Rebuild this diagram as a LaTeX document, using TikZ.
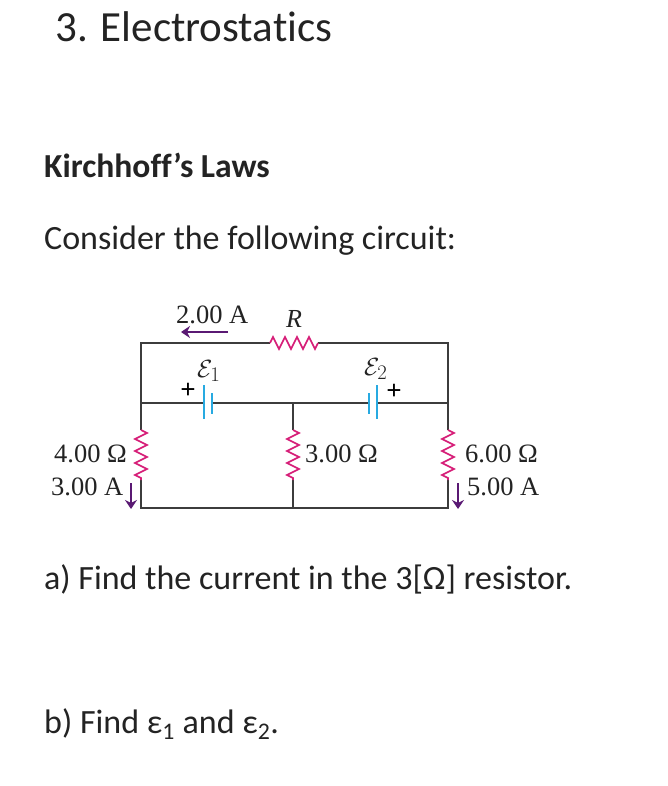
\documentclass[tikz,border=0pt]{standalone}
\usepackage{amsmath}
\usepackage{fontspec}
\setmainfont[Ligatures=NoCommon]{Carlito}
\newfontfamily\figfont{Liberation Serif}
\usetikzlibrary{decorations.pathmorphing,arrows.meta}
\definecolor{wirecol}{RGB}{60,60,60}
\definecolor{rescol}{RGB}{214,30,120}
\definecolor{batcol}{RGB}{40,170,225}
\definecolor{arrcol}{RGB}{90,25,115}
\definecolor{txtcol}{RGB}{35,35,35}
\tikzset{
  wire/.style={draw=wirecol,line width=1.6pt},
  res/.style={draw=rescol,line width=1.6pt,decorate,decoration={zigzag,segment length=12pt,amplitude=6pt}},
  plate/.style={draw=batcol,line width=1.6pt},
  cur/.style={draw=arrcol,line width=1.9pt,-{Stealth[length=9pt,width=12pt]}},
  head/.style={anchor=base west,inner sep=0pt,font=\fontsize{43}{43}\selectfont,text=txtcol},
  sub/.style={anchor=base west,inner sep=0pt,font=\fontsize{33.6}{33.6}\selectfont\bfseries,text=txtcol},
  body/.style={anchor=base west,inner sep=0pt,font=\fontsize{34}{34}\selectfont,text=txtcol},
  lab/.style={anchor=base west,inner sep=0pt,font=\figfont\fontsize{26.5}{26.5}\selectfont,text=txtcol},
  sign/.style={inner sep=0pt,font=\figfont\bfseries\fontsize{27}{27}\selectfont,text=black},
  emf/.style={lab,font=\fontsize{29}{29}\selectfont},
}
\begin{document}
\begin{tikzpicture}[x=1pt,y=-1pt]
\useasboundingbox (0,0) rectangle (668,786);
% text
\node [head] (title) at (55,42) {3. Electrostatics};
\node [sub] (laws) at (44,178) {Kirchhoff’s Laws};
\node [body] (intro) at (44,249) {Consider the following circuit:};
\node [body] (parta) at (44,589) {a) Find the current in the 3[Ω] resistor.};
\node [body] (partb) at (44,733) {b) Find ε\textsubscript{1} and ε\textsubscript{2}.};
% junctions
\coordinate (tl) at (141,343);
\coordinate (tr) at (448,343);
\coordinate (ml) at (141,403);
\coordinate (mm) at (293,403);
\coordinate (mr) at (448,403);
\coordinate (bl) at (141,508);
\coordinate (bm) at (293,508);
\coordinate (br) at (448,508);
% resistor ends
\coordinate (ra) at (270,343);
\coordinate (rb) at (318,343);
\coordinate (r4a) at (141,430);
\coordinate (r4b) at (141,480);
\coordinate (r3a) at (293,430);
\coordinate (r3b) at (293,480);
\coordinate (r6a) at (448,430);
\coordinate (r6b) at (448,480);
% battery plates
\coordinate (b1a) at (204,403);
\coordinate (b1b) at (212,403);
\coordinate (b2a) at (369,403);
\coordinate (b2b) at (377,403);
% wires
\draw [wire] (ra) -- (tl) -- (ml) -- (r4a);
\draw [wire] (r4b) -- (bl) -- (bm) -- (br) -- (r6b);
\draw [wire] (r6a) -- (mr) -- (tr) -- (rb);
\draw [wire] (ml) -- (b1a);
\draw [wire] (b1b) -- (mm) -- (b2a);
\draw [wire] (b2b) -- (mr);
\draw [wire] (mm) -- (r3a);
\draw [wire] (r3b) -- (bm);
% resistors
\draw [res] (ra) -- (rb);
\draw [res] (r4a) -- (r4b);
\draw [res] (r3a) -- (r3b);
\draw [res] (r6a) -- (r6b);
% batteries
\draw [plate] ([yshift=18pt]b1a) -- ([yshift=-16pt]b1a);
\draw [plate] ([yshift=10pt]b1b) -- ([yshift=-11pt]b1b);
\draw [plate] ([yshift=10pt]b2a) -- ([yshift=-11pt]b2a);
\draw [plate] ([yshift=18pt]b2b) -- ([yshift=-16pt]b2b);
\node [sign] (p1) at (188,391) {+};
\node [sign] (p2) at (394,392) {+};
% labels
\node [lab] (i1) at (176,323) {2.00 A};
\node [lab,font=\figfont\itshape\fontsize{26}{26}\selectfont] (rlab) at (286,327) {R};
\node [emf] (e1) at (197,377) {$\mathcal{E}_{1}$};
\node [emf] (e2) at (364,375) {$\mathcal{E}_{2}$};
\node [lab] (r4lab) at (54,462) {4.00 Ω};
\node [lab] (i3) at (51,495) {3.00 A};
\node [lab] (r3lab) at (305,462) {3.00 Ω};
\node [lab] (r6lab) at (465,462) {6.00 Ω};
\node [lab] (i5) at (467,495) {5.00 A};
% current arrows
\coordinate (i1a) at (228,332);
\coordinate (i1b) at (181,332);
\coordinate (i3a) at (131,483);
\coordinate (i3b) at (131,509);
\coordinate (i5a) at (458,483);
\coordinate (i5b) at (458,509);
\draw [cur] (i1a) -- (i1b);
\draw [cur] (i3a) -- (i3b);
\draw [cur] (i5a) -- (i5b);
\end{tikzpicture}
\end{document}
